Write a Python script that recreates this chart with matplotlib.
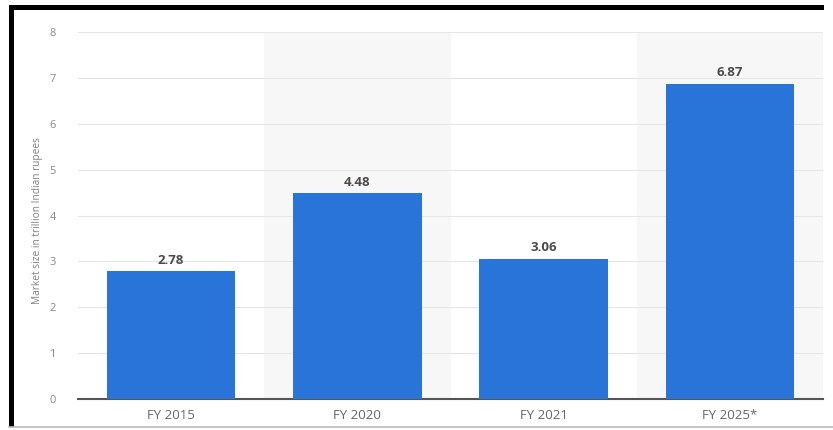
import matplotlib
matplotlib.use("Agg")
import matplotlib.pyplot as plt
from matplotlib.patches import Rectangle
from matplotlib.lines import Line2D

categories = ["FY 2015", "FY 2020", "FY 2021", "FY 2025*"]
values = [2.78, 4.48, 3.06, 6.87]
value_labels = ["2.78", "4.48", "3.06", "6.87"]
y_ticks = [0, 1, 2, 3, 4, 5, 6, 7, 8]
y_label = "Market size in trillion Indian rupees"

plt.rcParams['font.family'] = ['Open Sans', 'DejaVu Sans']

W, H = 833, 430
fig = plt.figure(figsize=(W / 100, H / 100), dpi=100)
fig.patch.set_facecolor("white")

ax = fig.add_axes([78 / W, 31 / H, 745 / W, 367 / H])
x = list(range(len(categories)))

# alternating background bands
for i in x:
    if i % 2 == 1:
        ax.axvspan(i - 0.5, i + 0.5, color="#f7f7f7", zorder=0, lw=0)

ax.bar(x, values, width=0.69, color="#2874d8", zorder=3)
for xi, v, lab in zip(x, values, value_labels):
    ax.text(xi, v + 0.1, lab, ha="center", va="bottom", fontsize=9.5,
            fontweight="bold", color="#4a4a4a", zorder=4)

ax.set_xlim(-0.5, len(categories) - 0.5)
ax.set_ylim(0, 8)
ax.set_yticks(y_ticks)
ax.set_yticklabels([str(t) for t in y_ticks], fontsize=8, color="#888888")
ax.set_xticks(x)
ax.set_xticklabels(categories, fontsize=9.5, color="#666666")
ax.tick_params(axis="both", length=0)
ax.tick_params(axis="y", pad=16)
ax.tick_params(axis="x", pad=7)
ax.yaxis.grid(True, color="#e6e6e6", lw=0.8, zorder=1)
ax.set_axisbelow(True)
for s in ["top", "right", "left"]:
    ax.spines[s].set_visible(False)
ax.spines["bottom"].set_color("#555555")
ax.spines["bottom"].set_linewidth(1.5)
ax.set_facecolor("white")

fig.text(38 / W, 1 - 220 / H, y_label, rotation=90, ha="center", va="center",
         fontsize=7.3, color="#808080")

# border decorations
fig.add_artist(Rectangle((9 / W, 1 - 10 / H), 815 / W, 5 / H,
                         transform=fig.transFigure, color="black", lw=0))
fig.add_artist(Rectangle((9 / W, 1 - 427 / H), 5 / W, 422 / H,
                         transform=fig.transFigure, color="black", lw=0))
fig.add_artist(Line2D([9 / W, 1], [1 - 427 / H, 1 - 427 / H],
                      transform=fig.transFigure, color="#bbbbbb", lw=1.2))

fig.savefig("out.png", dpi=100)
